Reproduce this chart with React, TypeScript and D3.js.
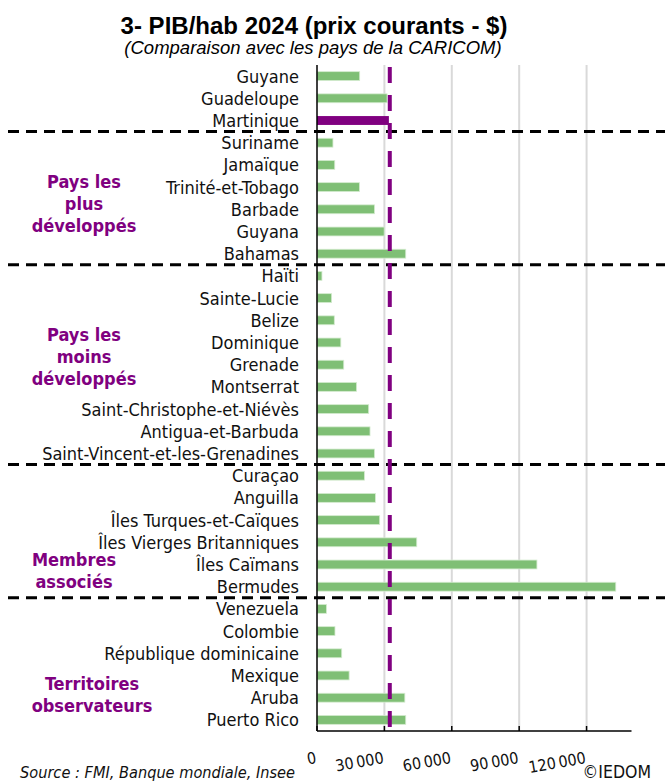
import * as d3 from "d3";
import React from "react";

// données (PIB/hab 2024, $ courants)
const countries = [
  "Guyane", "Guadeloupe", "Martinique",
  "Suriname", "Jamaïque", "Trinité-et-Tobago", "Barbade", "Guyana", "Bahamas",
  "Haïti", "Sainte-Lucie", "Belize", "Dominique", "Grenade", "Montserrat",
  "Saint-Christophe-et-Niévès", "Antigua-et-Barbuda", "Saint-Vincent-et-les-Grenadines",
  "Curaçao", "Anguilla", "Îles Turques-et-Caïques", "Îles Vierges Britanniques", "Îles Caïmans", "Bermudes",
  "Venezuela", "Colombie", "République dominicaine", "Mexique", "Aruba", "Puerto Rico",
];

const gdpPerCapita = [
  19000, 31200, 32000,
  7100, 7900, 18900, 25600, 29900, 39500,
  2200, 6500, 7700, 10600, 11900, 17600, 23000, 23600, 25600,
  21100, 26000, 27900, 44400, 97900, 133000,
  4200, 8000, 11000, 14300, 39100, 39500,
];

const martiniqueRef = 32400;

const xTicks = [0, 30000, 60000, 90000, 120000];

// premières lignes de chaque groupe (séparateurs en pointillés)
const groupStarts = ["Suriname", "Haïti", "Curaçao", "Venezuela"];

const groupNames = [
  ["Pays les", "plus", "développés"],
  ["Pays les", "moins", "développés"],
  ["Membres", "associés"],
  ["Territoires", "observateurs"],
];

const W = 665;
const H = 781;
const FONT = "'DejaVu Sans Condensed', 'DejaVu Sans', sans-serif";
const GREEN = "#7fbf75";
const PURPLE = "#800080";

const fmt = (v: number) => (v === 0 ? "0" : d3.format(",")(v).replace(/,/g, "\u202f"));

export default function App() {
  const x = d3.scaleLinear().domain([0, 140000]).range([317, 631.5]);
  const y = d3.scaleBand<string>().domain(countries).range([65, 731]).paddingInner(0.6).paddingOuter(0.3);
  const gap = (y.step() - y.bandwidth()) / 2;
  const top = 65;
  const bottom = 731;

  // placement des libellés de groupe
  const groupPos = [
    { cx: 84, cy: 182 },
    { cx: 84, cy: 335 },
    { cx: 74, cy: 560 },
    { cx: 92, cy: 684 },
  ];

  return (
    <svg width={W} height={H} style={{ position: "absolute", left: 0, top: 0, background: "#fff" }}>
      <text x={314} y={34} textAnchor="middle" fontFamily="'Liberation Sans', Arial, sans-serif"
        fontWeight="bold" fontSize={24}>3- PIB/hab 2024 (prix courants - $)</text>
      <text x={313} y={54} textAnchor="middle" fontFamily="'Liberation Sans', Arial, sans-serif"
        fontStyle="italic" fontSize={18.5}>(Comparaison avec les pays de la CARICOM)</text>

      {/* grille */}
      {xTicks.slice(1).map(t => (
        <line key={t} x1={x(t)} x2={x(t)} y1={top} y2={bottom} stroke="#d9d9d9" strokeWidth={2} />
      ))}

      {/* barres */}
      {countries.map((c, i) => (
        <rect key={c} x={x(0)} y={y(c)} width={x(gdpPerCapita[i]) - x(0)} height={y.bandwidth()}
          fill={c === "Martinique" ? PURPLE : GREEN}
          stroke={c === "Martinique" ? "none" : "#d4ebcf"} strokeWidth={0.8} />
      ))}

      {/* libellés pays */}
      {countries.map(c => (
        <text key={c} x={299} y={(y(c) as number) + y.bandwidth() / 2} dy="0.36em" textAnchor="end"
          fontFamily={FONT} fontSize={18} fill="#111">{c}</text>
      ))}

      {/* séparateurs */}
      {groupStarts.map(c => {
        const yy = (y(c) as number) - gap;
        return <line key={c} x1={8} x2={665} y1={yy} y2={yy} stroke="#000" strokeWidth={3} strokeDasharray="11,7" />;
      })}

      {/* référence Martinique */}
      <line x1={x(martiniqueRef)} x2={x(martiniqueRef)} y1={67} y2={bottom - 2}
        stroke={PURPLE} strokeWidth={4} strokeDasharray="16,12" />

      {/* axes */}
      <line x1={x(0)} x2={x(0)} y1={top} y2={bottom} stroke="#000" strokeWidth={1.5} />
      <line x1={x(0)} x2={x(140000)} y1={bottom} y2={bottom} stroke="#000" strokeWidth={1.5} />
      {xTicks.map(t => (
        <g key={t}>
          <line x1={x(t)} x2={x(t)} y1={bottom - 5} y2={bottom} stroke="#000" strokeWidth={1.5} />
          <text transform={`translate(${x(t)},763) rotate(-10)`} textAnchor="end"
            fontFamily={FONT} fontSize={16} fill="#111">{fmt(t)}</text>
        </g>
      ))}

      {/* libellés des groupes */}
      {groupNames.map((lines, gi) => (
        <text key={gi} textAnchor="middle" fontFamily={FONT} fontWeight="bold" fontSize={18} fill={PURPLE}>
          {lines.map((l, li) => (
            <tspan key={li} x={groupPos[gi].cx} y={groupPos[gi].cy + li * 22} dy="0.36em">{l}</tspan>
          ))}
        </text>
      ))}

      <text x={20} y={778} fontFamily={FONT} fontStyle="italic" fontSize={16.2} fill="#111">
        Source : FMI, Banque mondiale, Insee
      </text>
      <text x={651} y={778} textAnchor="end" fontFamily={FONT} fontSize={17.5} fill="#111">©IEDOM</text>
    </svg>
  );
}
